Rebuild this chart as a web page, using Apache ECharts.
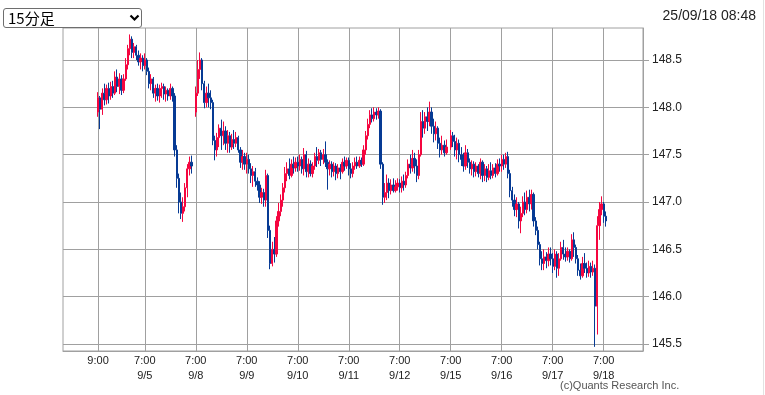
<!DOCTYPE html>
<html><head><meta charset="utf-8">
<script src="https://cdn.jsdelivr.net/npm/echarts@6/dist/echarts.min.js"></script>
<style>
html,body{margin:0;padding:0;background:#fff;overflow:hidden}
#c{position:absolute;left:0;top:0;width:765px;height:395px}
#sel{position:absolute;left:3px;top:8px;width:139px;height:20px;box-sizing:border-box;border:1px solid #6e6e6e;border-radius:3px;background:#fff;z-index:10;font-family:"Noto Sans CJK JP","Noto Sans",sans-serif;font-size:15px;line-height:18px;color:#000}
#sel span{position:absolute;left:4px;top:0}
#sel svg{position:absolute;left:125px;top:5px}
</style></head>
<body>
<div id="c"></div>
<div id="sel"><span>15分足</span><svg width="11" height="8" viewBox="0 0 11 8"><path d="M1.5 1.5 L5.5 5.5 L9.5 1.5" fill="none" stroke="#000" stroke-width="2.2"/></svg></div>
<script>
// Candle values: [open, close, low, high], one per hour slot of each trading session
const s0904 = [[147.95,148.10,147.90,148.16],[148.10,147.98,147.77,148.12],[147.98,148.15,147.92,148.20],[148.15,148.08,148.02,148.25],[148.08,148.20,148.03,148.24],[148.20,148.12,148.04,148.26],[148.12,148.22,148.08,148.27],[148.22,148.15,148.10,148.28],[148.15,148.32,148.13,148.38],[148.32,148.22,148.16,148.40],[148.22,148.30,148.14,148.36],[148.30,148.18,148.13,148.34],[148.18,148.30,148.15,148.35],[148.30,148.45,148.28,148.52],[148.45,148.62,148.40,148.66],[148.62,148.72,148.55,148.77],[148.72,148.58,148.52,148.75],[148.58,148.64,148.52,148.68],[148.64,148.55,148.50,148.66],[148.55,148.48,148.44,148.60],[148.48,148.52,148.40,148.57],[148.52,148.44,148.38,148.55]];
const s0905 = [[148.44,148.50,148.40,148.57],[148.50,148.38,148.34,148.52],[148.38,148.25,148.20,148.42],[148.25,148.30,148.18,148.35],[148.30,148.15,148.10,148.32],[148.15,148.20,148.06,148.24],[148.20,148.12,148.07,148.25],[148.12,148.20,148.05,148.24],[148.20,148.22,148.10,148.26],[148.22,148.14,148.08,148.25],[148.14,148.18,148.06,148.22],[148.18,148.12,148.07,148.20],[148.12,148.20,148.08,148.25],[148.20,148.12,148.06,148.22],[148.12,147.55,147.48,148.15],[147.55,147.25,147.15,147.60],[147.25,147.00,146.88,147.30],[147.00,146.88,146.82,147.10],[146.88,146.95,146.79,147.05],[146.95,147.15,146.90,147.20],[147.15,147.35,147.05,147.40],[147.35,147.42,147.28,147.48],[147.42,147.38,147.30,147.49],'-'];
const s0908 = [[147.95,148.15,147.90,148.22],[148.15,148.40,148.12,148.50],[148.40,148.50,148.30,148.58],[148.50,148.25,148.18,148.52],[148.25,148.05,147.99,148.28],[148.05,148.15,148.00,148.22],[148.15,148.10,148.00,148.25],[148.10,148.05,147.98,148.18],[148.05,147.65,147.60,148.08],[147.65,147.55,147.44,147.70],[147.55,147.68,147.48,147.73],[147.68,147.78,147.58,147.82],[147.78,147.70,147.55,147.87],[147.70,147.75,147.60,147.85],[147.75,147.62,147.55,147.80],[147.62,147.70,147.52,147.76],[147.70,147.58,147.52,147.74],[147.58,147.66,147.55,147.72],[147.66,147.62,147.56,147.76],[147.62,147.68,147.58,147.74],[147.68,147.55,147.52,147.70],[147.55,147.42,147.36,147.58],[147.42,147.48,147.34,147.55],[147.48,147.40,147.34,147.52]];
const s0909 = [[147.40,147.45,147.30,147.52],[147.45,147.35,147.30,147.50],[147.35,147.28,147.20,147.41],[147.28,147.32,147.16,147.38],[147.32,147.22,147.16,147.36],[147.22,147.18,147.12,147.26],[147.18,147.05,146.99,147.22],[147.05,147.10,146.98,147.15],[147.10,147.02,146.95,147.14],[147.02,147.28,146.95,147.34],[147.28,146.70,146.62,147.30],[146.70,146.35,146.29,146.75],[146.35,146.50,146.32,146.58],[146.50,146.45,146.36,146.63],[146.45,146.80,146.42,146.85],[146.80,146.90,146.74,146.99],[146.90,147.02,146.85,147.08],[147.02,147.15,146.95,147.20],[147.15,147.30,147.10,147.37],[147.30,147.35,147.22,147.42],[147.35,147.28,147.24,147.46],[147.28,147.40,147.26,147.45],[147.40,147.36,147.30,147.48],[147.36,147.42,147.32,147.47]];
const s0910 = [[147.42,147.38,147.32,147.48],[147.38,147.45,147.33,147.50],[147.45,147.35,147.30,147.48],[147.35,147.50,147.28,147.57],[147.50,147.32,147.26,147.54],[147.32,147.40,147.26,147.46],[147.40,147.30,147.27,147.44],[147.30,147.38,147.26,147.42],[147.38,147.48,147.34,147.52],[147.48,147.44,147.37,147.58],[147.44,147.52,147.40,147.56],[147.52,147.45,147.38,147.55],[147.45,147.50,147.40,147.56],[147.50,147.42,147.37,147.64],[147.42,147.35,147.13,147.45],[147.35,147.40,147.28,147.44],[147.40,147.32,147.26,147.43],[147.32,147.38,147.27,147.42],[147.38,147.30,147.23,147.41],[147.30,147.36,147.25,147.40],[147.36,147.32,147.24,147.40],[147.32,147.42,147.30,147.46],[147.42,147.38,147.33,147.48],[147.38,147.44,147.35,147.47]];
const s0911 = [[147.44,147.35,147.28,147.47],[147.35,147.30,147.25,147.41],[147.30,147.38,147.26,147.42],[147.38,147.42,147.34,147.47],[147.42,147.38,147.35,147.48],[147.38,147.44,147.36,147.48],[147.44,147.40,147.37,147.47],[147.40,147.55,147.38,147.60],[147.55,147.70,147.50,147.75],[147.70,147.82,147.66,147.88],[147.82,147.92,147.78,147.97],[147.92,147.88,147.84,147.99],[147.88,147.95,147.85,148.00],[147.95,147.92,147.87,147.99],[147.92,147.96,147.88,148.00],[147.96,147.40,147.35,147.98],[147.40,147.05,146.97,147.42],[147.05,147.10,146.99,147.20],[147.10,147.20,147.02,147.29],[147.20,147.12,147.04,147.25],[147.12,147.18,147.08,147.24],[147.18,147.12,147.10,147.25],[147.12,147.16,147.10,147.23],[147.16,147.20,147.12,147.25]];
const s0912 = [[147.20,147.15,147.10,147.24],[147.15,147.22,147.10,147.27],[147.22,147.18,147.12,147.29],[147.18,147.28,147.15,147.32],[147.28,147.40,147.25,147.45],[147.40,147.36,147.30,147.50],[147.36,147.46,147.32,147.55],[147.46,147.38,147.30,147.52],[147.38,147.28,147.21,147.45],[147.28,147.50,147.24,147.55],[147.50,147.85,147.48,147.95],[147.85,147.78,147.68,147.97],[147.78,147.90,147.72,147.95],[147.90,147.85,147.75,148.00],[147.85,147.95,147.80,148.06],[147.95,147.80,147.72,148.00],[147.80,147.72,147.63,147.88],[147.72,147.78,147.65,147.85],[147.78,147.62,147.56,147.80],[147.62,147.55,147.47,147.68],[147.55,147.60,147.50,147.70],[147.60,147.52,147.48,147.65],[147.52,147.58,147.50,147.66],'-'];
const s0915 = [[147.58,147.70,147.55,147.76],[147.70,147.64,147.58,147.74],[147.64,147.55,147.48,147.71],[147.55,147.62,147.45,147.68],[147.62,147.50,147.42,147.66],[147.50,147.45,147.38,147.58],[147.45,147.38,147.32,147.52],[147.38,147.52,147.34,147.60],[147.52,147.42,147.36,147.56],[147.42,147.35,147.30,147.46],[147.35,147.40,147.28,147.44],[147.40,147.32,147.26,147.43],[147.32,147.38,147.27,147.42],[147.38,147.30,147.26,147.40],[147.30,147.42,147.24,147.46],[147.42,147.28,147.21,147.44],[147.28,147.35,147.22,147.40],[147.35,147.26,147.21,147.38],[147.26,147.33,147.23,147.40],[147.33,147.28,147.24,147.42],[147.28,147.36,147.25,147.40],[147.36,147.30,147.26,147.41],[147.30,147.40,147.28,147.45],[147.40,147.38,147.32,147.46]];
const s0916 = [[147.38,147.45,147.32,147.50],[147.45,147.40,147.34,147.50],[147.40,147.48,147.36,147.52],[147.48,147.30,147.25,147.53],[147.30,147.12,147.05,147.34],[147.12,147.02,146.95,147.16],[147.02,146.92,146.85,147.08],[146.92,146.98,146.84,147.05],[146.98,146.80,146.72,147.00],[146.80,146.88,146.67,146.95],[146.88,147.00,146.84,147.06],[147.00,146.92,146.86,147.10],[146.92,147.05,146.88,147.12],[147.05,146.98,146.90,147.13],[146.98,147.08,146.92,147.13],[147.08,146.80,146.74,147.10],[146.80,146.70,146.65,146.84],[146.70,146.55,146.50,146.74],[146.55,146.40,146.33,146.58],[146.40,146.35,146.28,146.48],[146.35,146.42,146.28,146.50],[146.42,146.38,146.30,146.47],[146.38,146.45,146.32,146.52],[146.45,146.40,146.33,146.52]];
const s0917 = [[146.40,146.32,146.25,146.46],[146.32,146.45,146.28,146.50],[146.45,146.30,146.20,146.48],[146.30,146.40,146.22,146.46],[146.40,146.52,146.38,146.58],[146.52,146.45,146.39,146.60],[146.45,146.42,146.37,146.52],[146.42,146.48,146.38,146.52],[146.48,146.40,146.36,146.50],[146.40,146.60,146.38,146.66],[146.60,146.52,146.42,146.68],[146.52,146.40,146.35,146.55],[146.40,146.28,146.22,146.44],[146.28,146.22,146.18,146.35],[146.22,146.35,146.20,146.42],[146.35,146.30,146.25,146.46],[146.30,146.25,146.20,146.36],[146.25,146.32,146.21,146.38],[146.32,146.26,146.20,146.36],[146.26,146.30,146.22,146.38],[146.30,145.90,145.47,146.34],[145.90,146.75,145.60,146.85],[146.75,146.92,146.60,147.00],[146.92,146.98,146.86,147.06]];
const s0918 = [[146.98,146.85,146.78,147.00],[146.85,146.80,146.74,146.90]];

const sessionDays = ['9/4','9/5','9/8','9/9','9/10','9/11','9/12','9/15','9/16','9/17','9/18'];
const sessionStartHour = [9,7,7,7,7,7,7,7,7,7,7];
const sessions = [s0904,s0905,s0908,s0909,s0910,s0911,s0912,s0915,s0916,s0917,s0918];
const padBefore = 16, padAfter = 17;

const xTickCats = ['9/4 9:00','9/5 7:00','9/8 7:00','9/9 7:00','9/10 7:00','9/11 7:00','9/12 7:00','9/15 7:00','9/16 7:00','9/17 7:00','9/18 7:00'];
const xTickText = ['9:00','7:00\n9/5','7:00\n9/8','7:00\n9/9','7:00\n9/10','7:00\n9/11','7:00\n9/12','7:00\n9/15','7:00\n9/16','7:00\n9/17','7:00\n9/18'];
const yTicks = [145.5,146.0,146.5,147.0,147.5,148.0,148.5];
const yMin = 145.426, yMax = 148.838;

const stamp = '25/09/18 08:48';
const credit = '(c)Quants Research Inc.';

// build category axis + data
const cats = [], candles = [];
for (let i = 0; i < padBefore; i++) { cats.push('pre' + i); candles.push('-'); }
sessions.forEach((s, k) => {
  s.forEach((c, i) => {
    cats.push(sessionDays[k] + ' ' + ((sessionStartHour[k] + i) % 24) + ':00');
    candles.push(c);
  });
});
for (let i = 0; i < padAfter; i++) { cats.push('post' + i); candles.push('-'); }
const labelMap = {};
xTickCats.forEach((c, i) => labelMap[c] = xTickText[i]);
const isTick = (idx, val) => labelMap[val] !== undefined;

const UP = '#f5053f', DOWN = '#063a94', GRID = '#a0a0a0';
const chart = echarts.init(document.getElementById('c'), null, {renderer: 'canvas'});
chart.setOption({
  animation: false,
  backgroundColor: '#fff',
  grid: {left: 63, right: 122, top: 28, bottom: 44, show: true, borderColor: GRID, borderWidth: 1, backgroundColor: 'transparent'},
  xAxis: {
    type: 'category', data: cats, boundaryGap: true,
    axisLine: {show: true, lineStyle: {color: GRID}},
    axisTick: {show: false, interval: isTick, alignWithLabel: true},
    axisLabel: {interval: isTick, formatter: v => labelMap[v] || '', color: '#222', fontSize: 11, fontFamily: 'Liberation Sans', lineHeight: 15, margin: 2, hideOverlap: false},
    splitLine: {show: true, interval: isTick, alignWithLabel: true, lineStyle: {color: GRID, width: 1}}
  },
  yAxis: {
    type: 'value', position: 'right', min: yMin, max: yMax, scale: true, splitNumber: 7,
    axisLine: {show: true, lineStyle: {color: GRID}},
    axisTick: {show: true, length: 6, customValues: yTicks, lineStyle: {color: GRID}},
    axisLabel: {customValues: yTicks, formatter: v => (Math.abs(v * 2 - Math.round(v * 2)) < 1e-6 ? v.toFixed(1) : ''), color: '#222', fontSize: 12, fontFamily: 'Liberation Sans', margin: 9},
    splitLine: {show: true, customValues: yTicks, lineStyle: {color: GRID, width: 1}}
  },
  series: [{
    type: 'candlestick', data: candles, barWidth: 1.8,
    itemStyle: {color: UP, color0: DOWN, borderColor: UP, borderColor0: DOWN, borderWidth: 1}
  }],
  graphic: [
    {type: 'text', right: 9, top: 9, style: {text: stamp, fill: '#222', font: '14px "Liberation Sans"'}},
    {type: 'text', left: 560, top: 380, style: {text: credit, fill: '#555', font: '11px "Liberation Sans"'}},
    {type: 'line', shape: {x1: 763.5, y1: 0, x2: 763.5, y2: 395}, style: {stroke: '#e2e2e2', lineWidth: 1}}
  ]
});
</script>
</body></html>
